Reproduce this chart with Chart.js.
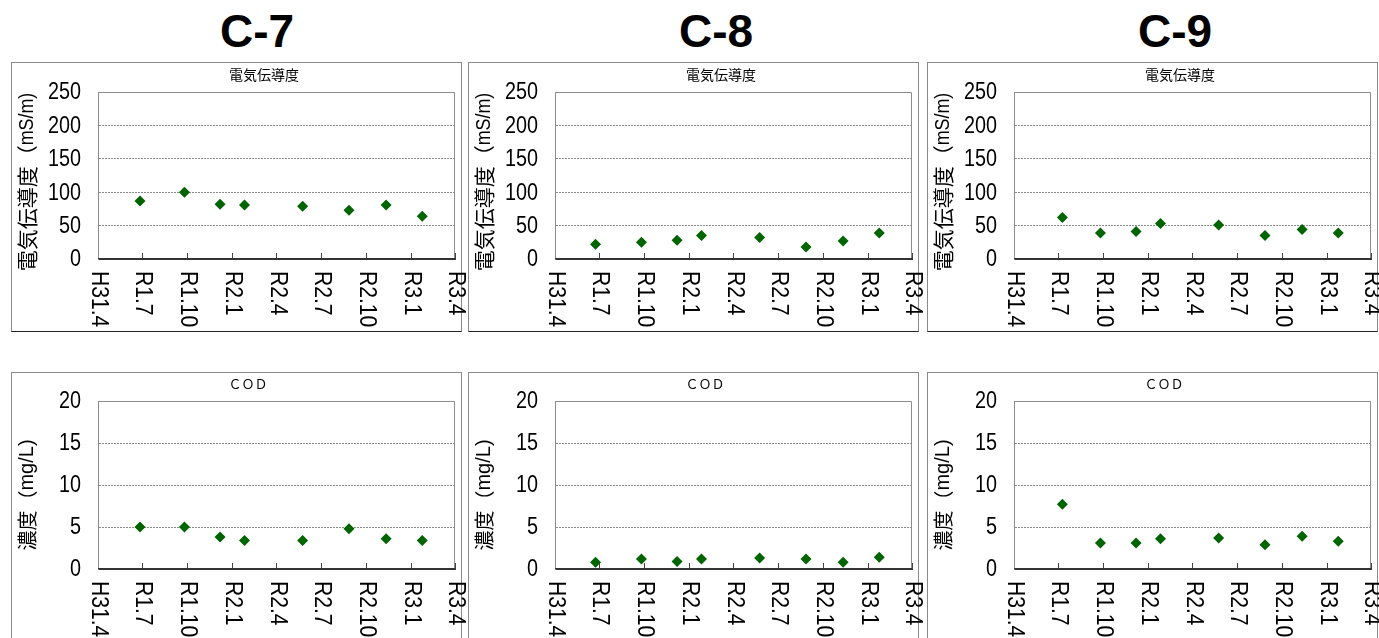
<!DOCTYPE html>
<html>
<head>
<meta charset="utf-8">
<script src="https://cdn.jsdelivr.net/npm/chart.js@4.4.1/dist/chart.umd.min.js"></script>
<style>
  html, body { margin: 0; padding: 0; background: #fff; }
  body { width: 1379px; height: 638px; overflow: hidden; position: relative; }
  .head { position: absolute; top: 6px; width: 200px; text-align: center;
          font: bold 46px "Liberation Sans", Arial, sans-serif; color: #000; line-height: 50px; }
  .box { position: absolute; box-sizing: border-box; width: 451px;
         border: 1px solid #8a8a8a; border-bottom-color: #222; background: #fff; }
  canvas { position: absolute; }
</style>
</head>
<body>
<script>
// ---------------- data ----------------
const sites = ['C-7', 'C-8', 'C-9'];
const tickLabels = ['H31.4', 'R1.7', 'R1.10', 'R2.1', 'R2.4', 'R2.7', 'R2.10', 'R3.1', 'R3.4'];
const tickDates = ['2019-04-01', '2019-07-01', '2019-10-01', '2020-01-01', '2020-04-01',
                   '2020-07-01', '2020-10-01', '2021-01-01', '2021-04-01'];
const sampleDatesC7 = ['2019-06-26', '2019-09-25', '2019-12-07', '2020-01-26', '2020-05-24', '2020-08-27', '2020-11-11', '2021-01-24'];
const sampleDatesC8 = ['2019-06-23', '2019-09-25', '2019-12-07', '2020-01-26', '2020-05-24', '2020-08-27', '2020-11-11', '2021-01-24'];
const sampleDatesC9 = ['2019-07-09', '2019-09-25', '2019-12-07', '2020-01-26', '2020-05-24', '2020-08-27', '2020-11-11', '2021-01-24'];
const ecC7 = [87, 100, 82, 81, 79, 73, 81, 64];
const ecC8 = [22, 25, 28, 35, 32, 18, 27, 39];
const ecC9 = [62, 39, 41, 53, 51, 35, 44, 39];
const codC7 = [5.0, 5.0, 3.8, 3.4, 3.4, 4.8, 3.6, 3.4];
const codC8 = [0.8, 1.2, 0.9, 1.2, 1.3, 1.2, 0.8, 1.4];
const codC9 = [7.7, 3.1, 3.1, 3.6, 3.7, 2.9, 3.9, 3.3];
const ecTitle = '電気伝導度';
const ecAxisTitle = '電気伝導度（mS/m)';
const codTitle = 'ＣＯＤ';
const codAxisTitle = '濃度（mg/L)';
const ecMax = 250, ecStep = 50;
const codMax = 20, codStep = 5;

// ---------------- helpers ----------------
const toDay = s => Date.parse(s + 'T00:00:00Z') / 86400000;
const tickDays = tickDates.map(toDay);
const LATIN = '"Liberation Sans", Arial, sans-serif';
const JP = '"Noto Sans CJK JP", "Noto Sans CJK SC", sans-serif';

// draw text made of CJK runs (normal width) and Latin runs (horizontally condensed)
function drawRuns(ctx, text, x, y, size, sx, align) {
  const runs = [];
  for (const ch of text) {
    const cjk = /[^\x00-\x7F]/.test(ch);
    const last = runs[runs.length - 1];
    if (last && last.cjk === cjk) last.t += ch; else runs.push({ t: ch, cjk });
  }
  let total = 0;
  runs.forEach(r => {
    ctx.font = size + 'px ' + (r.cjk ? JP : LATIN);
    r.s = r.cjk ? 1 : sx;
    r.w = ctx.measureText(r.t).width * r.s;
    total += r.w;
  });
  let cx = align === 'center' ? x - total / 2 : align === 'right' ? x - total : x;
  ctx.textAlign = 'left';
  runs.forEach(r => {
    ctx.font = size + 'px ' + (r.cjk ? JP : LATIN);
    ctx.save();
    ctx.translate(cx, y);
    ctx.scale(r.s, 1);
    ctx.fillText(r.t, 0, 0);
    ctx.restore();
    cx += r.w;
  });
}

const colLefts = [11, 468, 927];
const headCenters = [257, 716, 1175];

sites.forEach((s, i) => {
  const d = document.createElement('div');
  d.className = 'head';
  d.textContent = s;
  d.style.left = (headCenters[i] - 100) + 'px';
  document.body.appendChild(d);
});

const rows = [
  { kind: 'ec', top: 62, boxH: 270, canvasH: 268, padTop: 29, xH: 72,
    title: ecTitle, titleX: 252, titleY: 12, titleFont: '14px ' + JP,
    axisTitle: ecAxisTitle, axisSize: 21, axisSx: 0.85, axisY: 119,
    max: ecMax, step: ecStep,
    values: [ecC7, ecC8, ecC9] },
  { kind: 'cod', top: 372, boxH: 290, canvasH: 278, padTop: 28, xH: 82,
    title: codTitle, titleX: 236, titleY: 11, titleFont: '13px ' + JP,
    axisTitle: codAxisTitle, axisSize: 20, axisSx: 1.0, axisY: 122,
    max: codMax, step: codStep,
    values: [codC7, codC8, codC9] }
];
const datesBySite = [sampleDatesC7, sampleDatesC8, sampleDatesC9];

const decorPlugin = {
  id: 'decor',
  beforeDatasetsDraw(chart) {
    const a = chart.chartArea, ctx = chart.ctx;
    ctx.save();
    ctx.strokeStyle = '#8c8c8c';
    ctx.lineWidth = 1;
    ctx.beginPath();
    ctx.moveTo(a.left + 0.5, a.bottom);
    ctx.lineTo(a.left + 0.5, a.top + 0.5);
    ctx.lineTo(a.right - 0.5, a.top + 0.5);
    ctx.lineTo(a.right - 0.5, a.bottom);
    ctx.stroke();
    ctx.strokeStyle = '#333';
    ctx.beginPath();
    ctx.moveTo(a.left, a.bottom - 0.5);
    ctx.lineTo(a.right, a.bottom - 0.5);
    ctx.stroke();
    ctx.restore();
  },
  afterDraw(chart) {
    const o = chart.options.plugins.decor;
    const ctx = chart.ctx, xs = chart.scales.x, ys = chart.scales.y;
    const a = chart.chartArea;
    ctx.save();
    ctx.fillStyle = '#000';
    // panel title
    ctx.font = o.titleFont;
    ctx.textAlign = 'center';
    ctx.textBaseline = 'middle';
    ctx.fillText(o.title, o.titleX, o.titleY);
    // y axis title (reads bottom to top)
    ctx.save();
    ctx.translate(15, o.axisY);
    ctx.rotate(-Math.PI / 2);
    drawRuns(ctx, o.axisTitle, 0, 0, o.axisSize, o.axisSx, 'center');
    ctx.restore();
    // y tick labels
    ctx.textBaseline = 'middle';
    ys.ticks.forEach(t => {
      drawRuns(ctx, String(t.value), a.left - 17, ys.getPixelForValue(t.value) + 1, 23, 0.86, 'right');
    });
    // x tick labels (read top to bottom)
    xs.ticks.forEach((t, k) => {
      const x = xs.getPixelForValue(t.value);
      ctx.save();
      ctx.translate(x + 0.5, a.bottom + 12);
      ctx.rotate(Math.PI / 2);
      drawRuns(ctx, tickLabels[k], 0, 0, 24, 0.88, 'left');
      ctx.restore();
    });
    ctx.restore();
  }
};

rows.forEach(row => {
  colLefts.forEach((left, i) => {
    const box = document.createElement('div');
    box.className = 'box';
    box.style.left = left + 'px';
    box.style.top = row.top + 'px';
    box.style.height = row.boxH + 'px';
    document.body.appendChild(box);

    const cv = document.createElement('canvas');
    cv.width = 457; cv.height = row.canvasH;
    cv.style.left = (left + 1) + 'px';
    cv.style.top = (row.top + 1) + 'px';
    cv.style.width = '457px'; cv.style.height = row.canvasH + 'px';
    document.body.appendChild(cv);

    const pts = datesBySite[i].map((d, k) => ({ x: toDay(d), y: row.values[i][k] }));
    new Chart(cv, {
      type: 'scatter',
      data: { datasets: [{
        data: pts,
        pointStyle: 'rectRot',
        pointRadius: 5.5,
        pointHoverRadius: 5.5,
        backgroundColor: '#006400',
        borderColor: '#006400',
        borderWidth: 0
      }] },
      plugins: [decorPlugin],
      options: {
        responsive: false,
        animation: false,
        devicePixelRatio: 1,
        layout: { autoPadding: false, padding: { top: row.padTop, right: 14, left: 0, bottom: 0 } },
        plugins: {
          legend: { display: false },
          tooltip: { enabled: false },
          decor: { title: row.title, titleX: row.titleX, titleY: row.titleY, titleFont: row.titleFont,
                   axisTitle: row.axisTitle, axisSize: row.axisSize, axisSx: row.axisSx, axisY: row.axisY }
        },
        scales: {
          x: {
            type: 'linear',
            min: tickDays[0],
            max: tickDays[tickDays.length - 1],
            afterBuildTicks: sc => { sc.ticks = tickDays.map(v => ({ value: v })); },
            afterFit: sc => { sc.height = row.xH; },
            ticks: { display: false },
            grid: { drawOnChartArea: false, drawTicks: true, tickLength: -6, color: '#444', lineWidth: 1 },
            border: { display: true, color: '#333', width: 1 }
          },
          y: {
            min: 0,
            max: row.max,
            afterFit: sc => { sc.width = 86; },
            ticks: { stepSize: row.step, display: false },
            grid: {
              drawTicks: false,
              color: c => (c.tick && (c.tick.value === 0 || c.tick.value === row.max)) ? 'rgba(0,0,0,0)' : '#8a8a8a',
              lineWidth: 1
            },
            border: { display: true, color: '#8c8c8c', dash: [2, 1] }
          }
        }
      }
    });
  });
});
</script>
</body>
</html>
